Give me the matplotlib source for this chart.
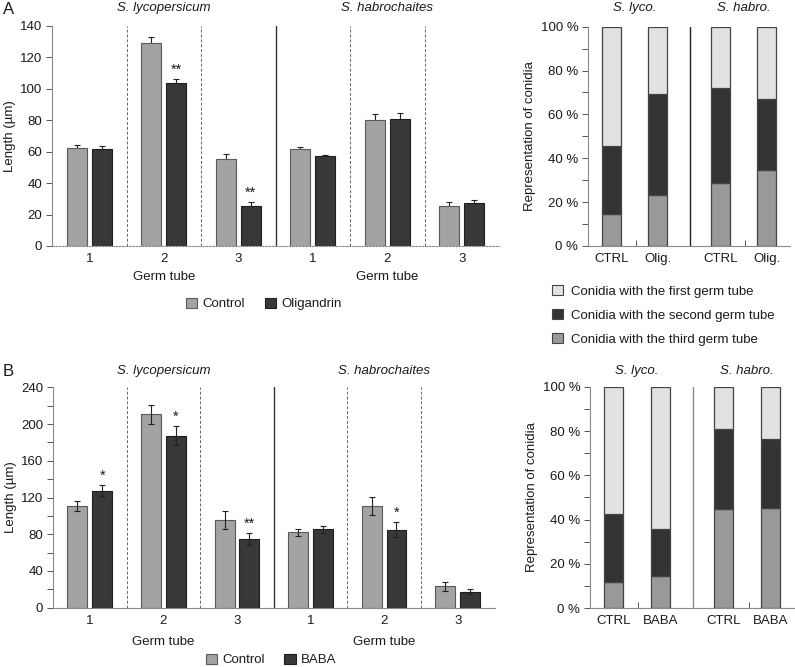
import numpy as np
import matplotlib
matplotlib.use("Agg")
import matplotlib.pyplot as plt
from matplotlib.patches import Patch
from matplotlib.ticker import MultipleLocator, FixedLocator

plt.rcParams['font.family'] = ['Liberation Sans', 'DejaVu Sans']
plt.rcParams['font.size'] = 9.5

#############################
# Data
#############################
germ_tubes = ["1", "2", "3"]
species = ["S. lycopersicum", "S. habrochaites"]
species_short = ["S. lyco.", "S. habro."]

# Panel A: germ tube length (um), oligandrin treatment
a_ctrl_lyco = [62.5, 129.5, 55.5]
a_ctrl_lyco_err = [2.0, 3.5, 3.0]
a_olig_lyco = [61.5, 103.5, 25.5]
a_olig_lyco_err = [2.0, 3.0, 2.3]
a_ctrl_habro = [61.7, 80.0, 25.2]
a_ctrl_habro_err = [1.0, 4.0, 2.5]
a_olig_habro = [57.0, 81.0, 27.5]
a_olig_habro_err = [1.0, 3.5, 2.0]
a_sig_lyco = ["", "**", "**"]
a_sig_habro = ["", "", ""]

# Panel B: germ tube length (um), BABA treatment
b_ctrl_lyco = [111.0, 210.5, 95.5]
b_ctrl_lyco_err = [5.5, 10.0, 10.0]
b_baba_lyco = [127.5, 187.5, 75.0]
b_baba_lyco_err = [6.0, 10.5, 6.5]
b_ctrl_habro = [82.0, 110.5, 23.5]
b_ctrl_habro_err = [3.5, 10.0, 5.0]
b_baba_habro = [85.5, 85.0, 17.5]
b_baba_habro_err = [4.0, 8.5, 2.5]
b_sig_lyco = ["*", "*", "**"]
b_sig_habro = ["", "*", ""]

# Stacked percentages (order: lyco CTRL, lyco treat, habro CTRL, habro treat)
a_labels = ["CTRL", "Olig.", "CTRL", "Olig."]
a_third = [14.5, 23.3, 28.9, 34.7]
a_second = [31.1, 45.9, 43.0, 32.3]
a_first = [54.4, 30.8, 28.1, 33.0]

b_labels = ["CTRL", "BABA", "CTRL", "BABA"]
b_third = [12.0, 14.6, 45.0, 45.1]
b_second = [30.7, 21.0, 35.9, 31.3]
b_first = [57.3, 64.4, 19.1, 23.6]

#############################
# Style
#############################
c_ctrl = "#a3a3a3"
c_treat = "#383838"
c_first = "#e2e2e2"
c_second = "#333333"
c_third = "#999999"
spine_col = "#8a8a8a"
txt_col = "#1a1a1a"
W, H = 795, 667
plt.rcParams['text.color'] = txt_col
plt.rcParams['xtick.labelcolor'] = txt_col
plt.rcParams['ytick.labelcolor'] = txt_col
plt.rcParams['axes.labelcolor'] = txt_col


def fx(px):
    return px / W


def fy(px):
    return 1 - px / H


def bar_panel(ax, ctrl, ctrl_err, treat, treat_err, sig, ymax, step, minor,
              err_over, base_style):
    # ctrl / treat are lists over 6 slots (lyco 1-3, habro 1-3)
    centers = np.arange(6) + 0.5
    off, bw = 0.168, 0.27
    ez = 4 if err_over else 1
    ax.bar(centers - off, ctrl, bw, color=c_ctrl, edgecolor="#5a5a5a", lw=0.8, zorder=2)
    ax.bar(centers + off, treat, bw, color=c_treat, edgecolor="#1e1e1e", lw=0.8, zorder=2)
    ax.errorbar(centers - off, ctrl, yerr=ctrl_err, fmt="none", ecolor="#222",
                elinewidth=0.8, capsize=2.2, capthick=0.8, zorder=ez)
    ax.errorbar(centers + off, treat, yerr=treat_err, fmt="none", ecolor="#222",
                elinewidth=0.8, capsize=2.2, capthick=0.8, zorder=ez)
    for x, v, e, s in zip(centers + off, treat, treat_err, sig):
        if s:
            ax.text(x, v + e + ymax * 0.01, s, ha="center", va="bottom", fontsize=10.5)
    for x in [1, 2, 4, 5, 6]:
        ax.axvline(x, color="#666666", lw=0.7, ls=(0, (3, 2)), zorder=0)
    ax.axvline(3, color="#333333", lw=1.0, zorder=0)
    ax.set_xlim(0, 6)
    ax.set_ylim(0, ymax)
    ax.yaxis.set_major_locator(MultipleLocator(step))
    if minor:
        ax.yaxis.set_minor_locator(MultipleLocator(minor))
    ax.set_xticks(centers)
    ax.set_xticklabels(germ_tubes * 2)
    ax.tick_params(axis="x", length=0, pad=5)
    ax.tick_params(axis="y", which="both", direction="out", length=4,
                   color="#555", width=0.7, pad=3)
    for s in ["top", "right"]:
        ax.spines[s].set_visible(False)
    ax.spines["left"].set_color(spine_col)
    ax.spines["bottom"].set_color(spine_col)
    if base_style == "dotted":
        ax.spines["bottom"].set_linestyle((0, (1.5, 1.5)))
    ax.set_ylabel("Length (\u00b5m)", labelpad=3)
    ax.set_xlabel("")


def stack_panel(ax, first, second, third, labels, div_col):
    pos = [0.5, 1.5, 2.85, 3.85]
    bw = 0.41
    ax.bar(pos, third, bw, color=c_third, edgecolor="#444", lw=0.9, zorder=2)
    ax.bar(pos, second, bw, bottom=third, color=c_second, edgecolor="#444", lw=0.9, zorder=2)
    bottom2 = [a + b for a, b in zip(third, second)]
    ax.bar(pos, first, bw, bottom=bottom2, color=c_first, edgecolor="#444", lw=0.9, zorder=2)
    ax.axvline(2.2, color=div_col, lw=1.0, zorder=0)
    ax.axvline(4.34, color="#666666", lw=0.7, ls=(0, (3, 2)), zorder=0)
    ax.set_xlim(0, 4.35)
    ax.set_ylim(0, 100)
    ax.set_xticks(pos)
    ax.set_xticklabels(labels)
    ax.xaxis.set_minor_locator(FixedLocator([1.03, 3.38]))
    ax.tick_params(axis="x", which="major", length=0, pad=5)
    ax.tick_params(axis="x", which="minor", direction="in", length=4,
                   color="#555", width=0.7)
    ax.yaxis.set_major_locator(MultipleLocator(20))
    ax.yaxis.set_minor_locator(MultipleLocator(10))
    ax.set_yticklabels([f"{int(v)} %" for v in ax.get_yticks()])
    ax.tick_params(axis="y", which="both", direction="out", length=4,
                   color="#555", width=0.7, pad=3)
    for s in ["top", "right"]:
        ax.spines[s].set_visible(False)
    ax.spines["left"].set_color(spine_col)
    ax.spines["bottom"].set_color(spine_col)
    ax.set_ylabel("Representation of conidia", labelpad=3)


fig = plt.figure(figsize=(W / 100, H / 100), dpi=100)

#############################
# Panel A
#############################
axA = fig.add_axes([fx(52), fy(246), fx(499 - 52), (246 - 26) / H])
bar_panel(axA, a_ctrl_lyco + a_ctrl_habro, a_ctrl_lyco_err + a_ctrl_habro_err,
          a_olig_lyco + a_olig_habro, a_olig_lyco_err + a_olig_habro_err,
          a_sig_lyco + a_sig_habro, 140, 20, None, False, "dotted")

axA2 = fig.add_axes([fx(588), fy(246), fx(790 - 588), (246 - 26.7) / H])
stack_panel(axA2, a_first, a_second, a_third, a_labels, "#222222")

#############################
# Panel B
#############################
axB = fig.add_axes([fx(53), fy(607.7), fx(494.5 - 53), (607.7 - 387.3) / H])
bar_panel(axB, b_ctrl_lyco + b_ctrl_habro, b_ctrl_lyco_err + b_ctrl_habro_err,
          b_baba_lyco + b_baba_habro, b_baba_lyco_err + b_baba_habro_err,
          b_sig_lyco + b_sig_habro, 240, 40, 20, True, "solid")

axB2 = fig.add_axes([fx(590), fy(608.3), fx(794 - 590), (608.3 - 386.7) / H])
stack_panel(axB2, b_first, b_second, b_third, b_labels, "#8a8a8a")

#############################
# Titles, labels, legends
#############################
fig.text(fx(3), fy(9), "A", fontsize=12, va="center")
fig.text(fx(3), fy(372), "B", fontsize=12, va="center")

for ax, ytop in [(axA, 8), (axB, 371)]:
    bb = ax.get_position()
    xs = [bb.x0 + bb.width * 1.5 / 6, bb.x0 + bb.width * 4.5 / 6]
    for x, name in zip(xs, species):
        fig.text(x, fy(ytop), name, style="italic", ha="center", va="center")

for ax, yg in [(axA, 277), (axB, 642)]:
    bb = ax.get_position()
    for k in [1.5, 4.5]:
        fig.text(bb.x0 + bb.width * k / 6, fy(yg), "Germ tube", ha="center", va="center")

for ax, ytop in [(axA2, 8), (axB2, 371)]:
    bb = ax.get_position()
    xs = [bb.x0 + bb.width * 1.0 / 4.35, bb.x0 + bb.width * 3.35 / 4.35]
    for x, name in zip(xs, species_short):
        fig.text(x, fy(ytop), name, style="italic", ha="center", va="center")

leg_kw = dict(frameon=False, ncol=2, handlelength=0.85, handleheight=0.85,
              handletextpad=0.4, columnspacing=1.5, fontsize=9.5)
fig.legend(handles=[Patch(fc=c_ctrl, ec="#5a5a5a", lw=0.8, label="Control"),
                    Patch(fc=c_treat, ec="#1e1e1e", lw=0.8, label="Oligandrin")],
           loc="center", bbox_to_anchor=(fx(264), fy(304)), **leg_kw)
fig.legend(handles=[Patch(fc=c_ctrl, ec="#5a5a5a", lw=0.8, label="Control"),
                    Patch(fc=c_treat, ec="#1e1e1e", lw=0.8, label="BABA")],
           loc="center", bbox_to_anchor=(fx(271), fy(660)), **leg_kw)

fig.legend(handles=[Patch(fc=c_first, ec="#444", lw=0.8, label="Conidia with the first germ tube"),
                    Patch(fc=c_second, ec="#444", lw=0.8, label="Conidia with the second germ tube"),
                    Patch(fc=c_third, ec="#444", lw=0.8, label="Conidia with the third germ tube")],
           loc="upper left", bbox_to_anchor=(fx(540), fy(273)), frameon=False,
           handlelength=0.85, handleheight=0.85, handletextpad=0.6, labelspacing=0.85,
           fontsize=9.5)

fig.savefig("out.png", dpi=100)
print("saved out.png")
